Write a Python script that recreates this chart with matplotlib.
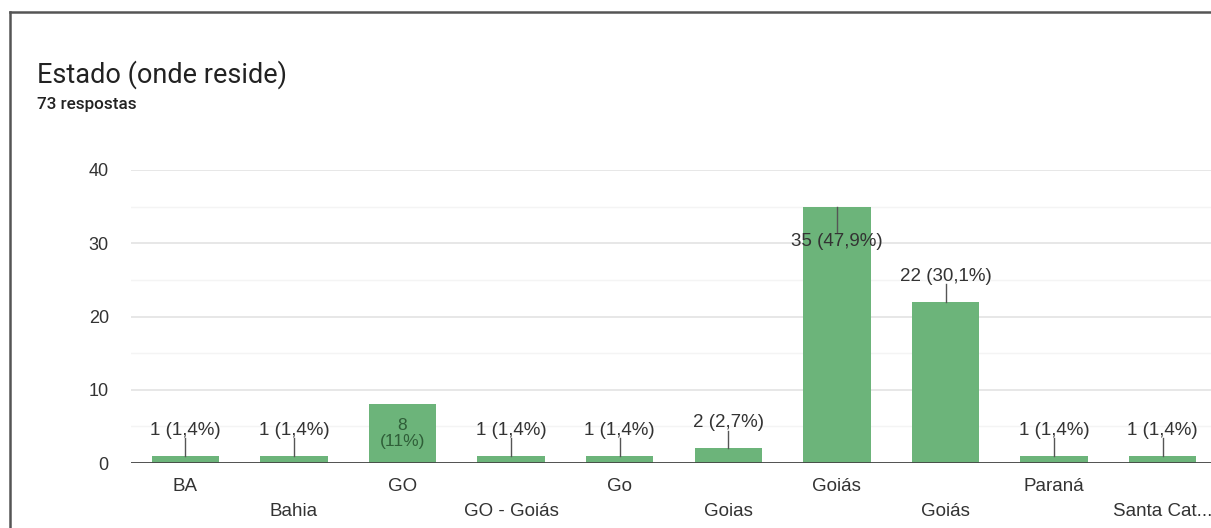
import matplotlib.pyplot as plt
from matplotlib.lines import Line2D

# dados do grafico
categorias = ["BA", "Bahia", "GO", "GO - Goiás", "Go", "Goias", "Goiás", "Goiás", "Paraná", "Santa Cat..."]
valores = [1, 1, 8, 1, 1, 2, 35, 22, 1, 1]
percentuais = ["1,4%", "1,4%", "11%", "1,4%", "1,4%", "2,7%", "47,9%", "30,1%", "1,4%", "1,4%"]

titulo = "Estado (onde reside)"
subtitulo = "73 respostas"


def main():
    verde = "#6cb47a"
    texto = "#333333"

    fig = plt.figure(figsize=(12.11, 5.28), dpi=100)
    fig.patch.set_facecolor("white")

    # moldura do cartao (esquerda e topo)
    fig.add_artist(Line2D([10 / 1211, 10 / 1211], [0, 1 - 12 / 528], color="#555555", lw=1.8,
                         transform=fig.transFigure))
    fig.add_artist(Line2D([10 / 1211, 1], [1 - 12 / 528, 1 - 12 / 528], color="#555555", lw=1.8,
                         transform=fig.transFigure))

    fig.text(37 / 1211, 1 - 75 / 528, titulo, fontsize=19.5, family="Roboto", color="#222222", va="center")
    fig.text(37 / 1211, 1 - 105 / 528, subtitulo, fontsize=12.3, family="Roboto", weight="medium",
             color="#222222", va="center")

    left = 131 / 1211
    width = (108.6 * 10) / 1211
    bottom = 65 / 528
    height = 293 / 528
    ax = fig.add_axes([left, bottom, width, height])

    x = list(range(len(categorias)))
    ax.bar(x, valores, width=0.62, color=verde, zorder=3)

    ax.set_xlim(-0.5, len(categorias) - 0.5)
    ax.set_ylim(0, 40)
    ax.set_yticks([0, 10, 20, 30, 40])
    ax.set_yticks([5, 15, 25, 35], minor=True)
    ax.grid(axis="y", which="major", color="#e3e3e3", lw=1.2, zorder=0)
    ax.grid(axis="y", which="minor", color="#f4f4f4", lw=1.0, zorder=0)
    ax.axhline(0, color="#444444", lw=2, zorder=4)

    for s in ax.spines.values():
        s.set_visible(False)

    ax.tick_params(axis="y", which="both", length=0, pad=16, labelsize=13, labelcolor=texto)
    ax.tick_params(axis="x", which="both", length=0, labelsize=13.5, labelcolor=texto)
    ax.set_xticks(x)
    ax.set_xticklabels(categorias, family="Liberation Sans")
    for lab in ax.get_yticklabels():
        lab.set_family("Liberation Sans")
    for i, tick in enumerate(ax.xaxis.get_major_ticks()):
        tick.set_pad(29 if i % 2 else 11)

    # rotulos de dados
    for i, v in enumerate(valores):
        rot = f"{v} ({percentuais[i]})"
        if v + 4 > 37:
            # rotulo dentro da barra, abaixo do topo
            ax.plot([i, i], [v, v - 3.4], color="#555555", lw=1, zorder=4)
            ax.text(i, v - 4.7, rot, ha="center", va="center", fontsize=13.5,
                    family="Liberation Sans", color=texto, zorder=5)
        elif 5 <= v <= 10:
            ax.text(i, v / 2, f"{v}\n({percentuais[i]})", ha="center", va="center", fontsize=12.5,
                    family="Liberation Sans", color="#2f5e38", zorder=5, linespacing=1.1)
        else:
            ax.plot([i, i], [v, v + 2.4], color="#555555", lw=1, zorder=4)
            ax.text(i, v + 3.5, rot, ha="center", va="center", fontsize=13.5,
                    family="Liberation Sans", color=texto, zorder=5)

    fig.savefig("out.png", dpi=100)


if __name__ == "__main__":
    main()
